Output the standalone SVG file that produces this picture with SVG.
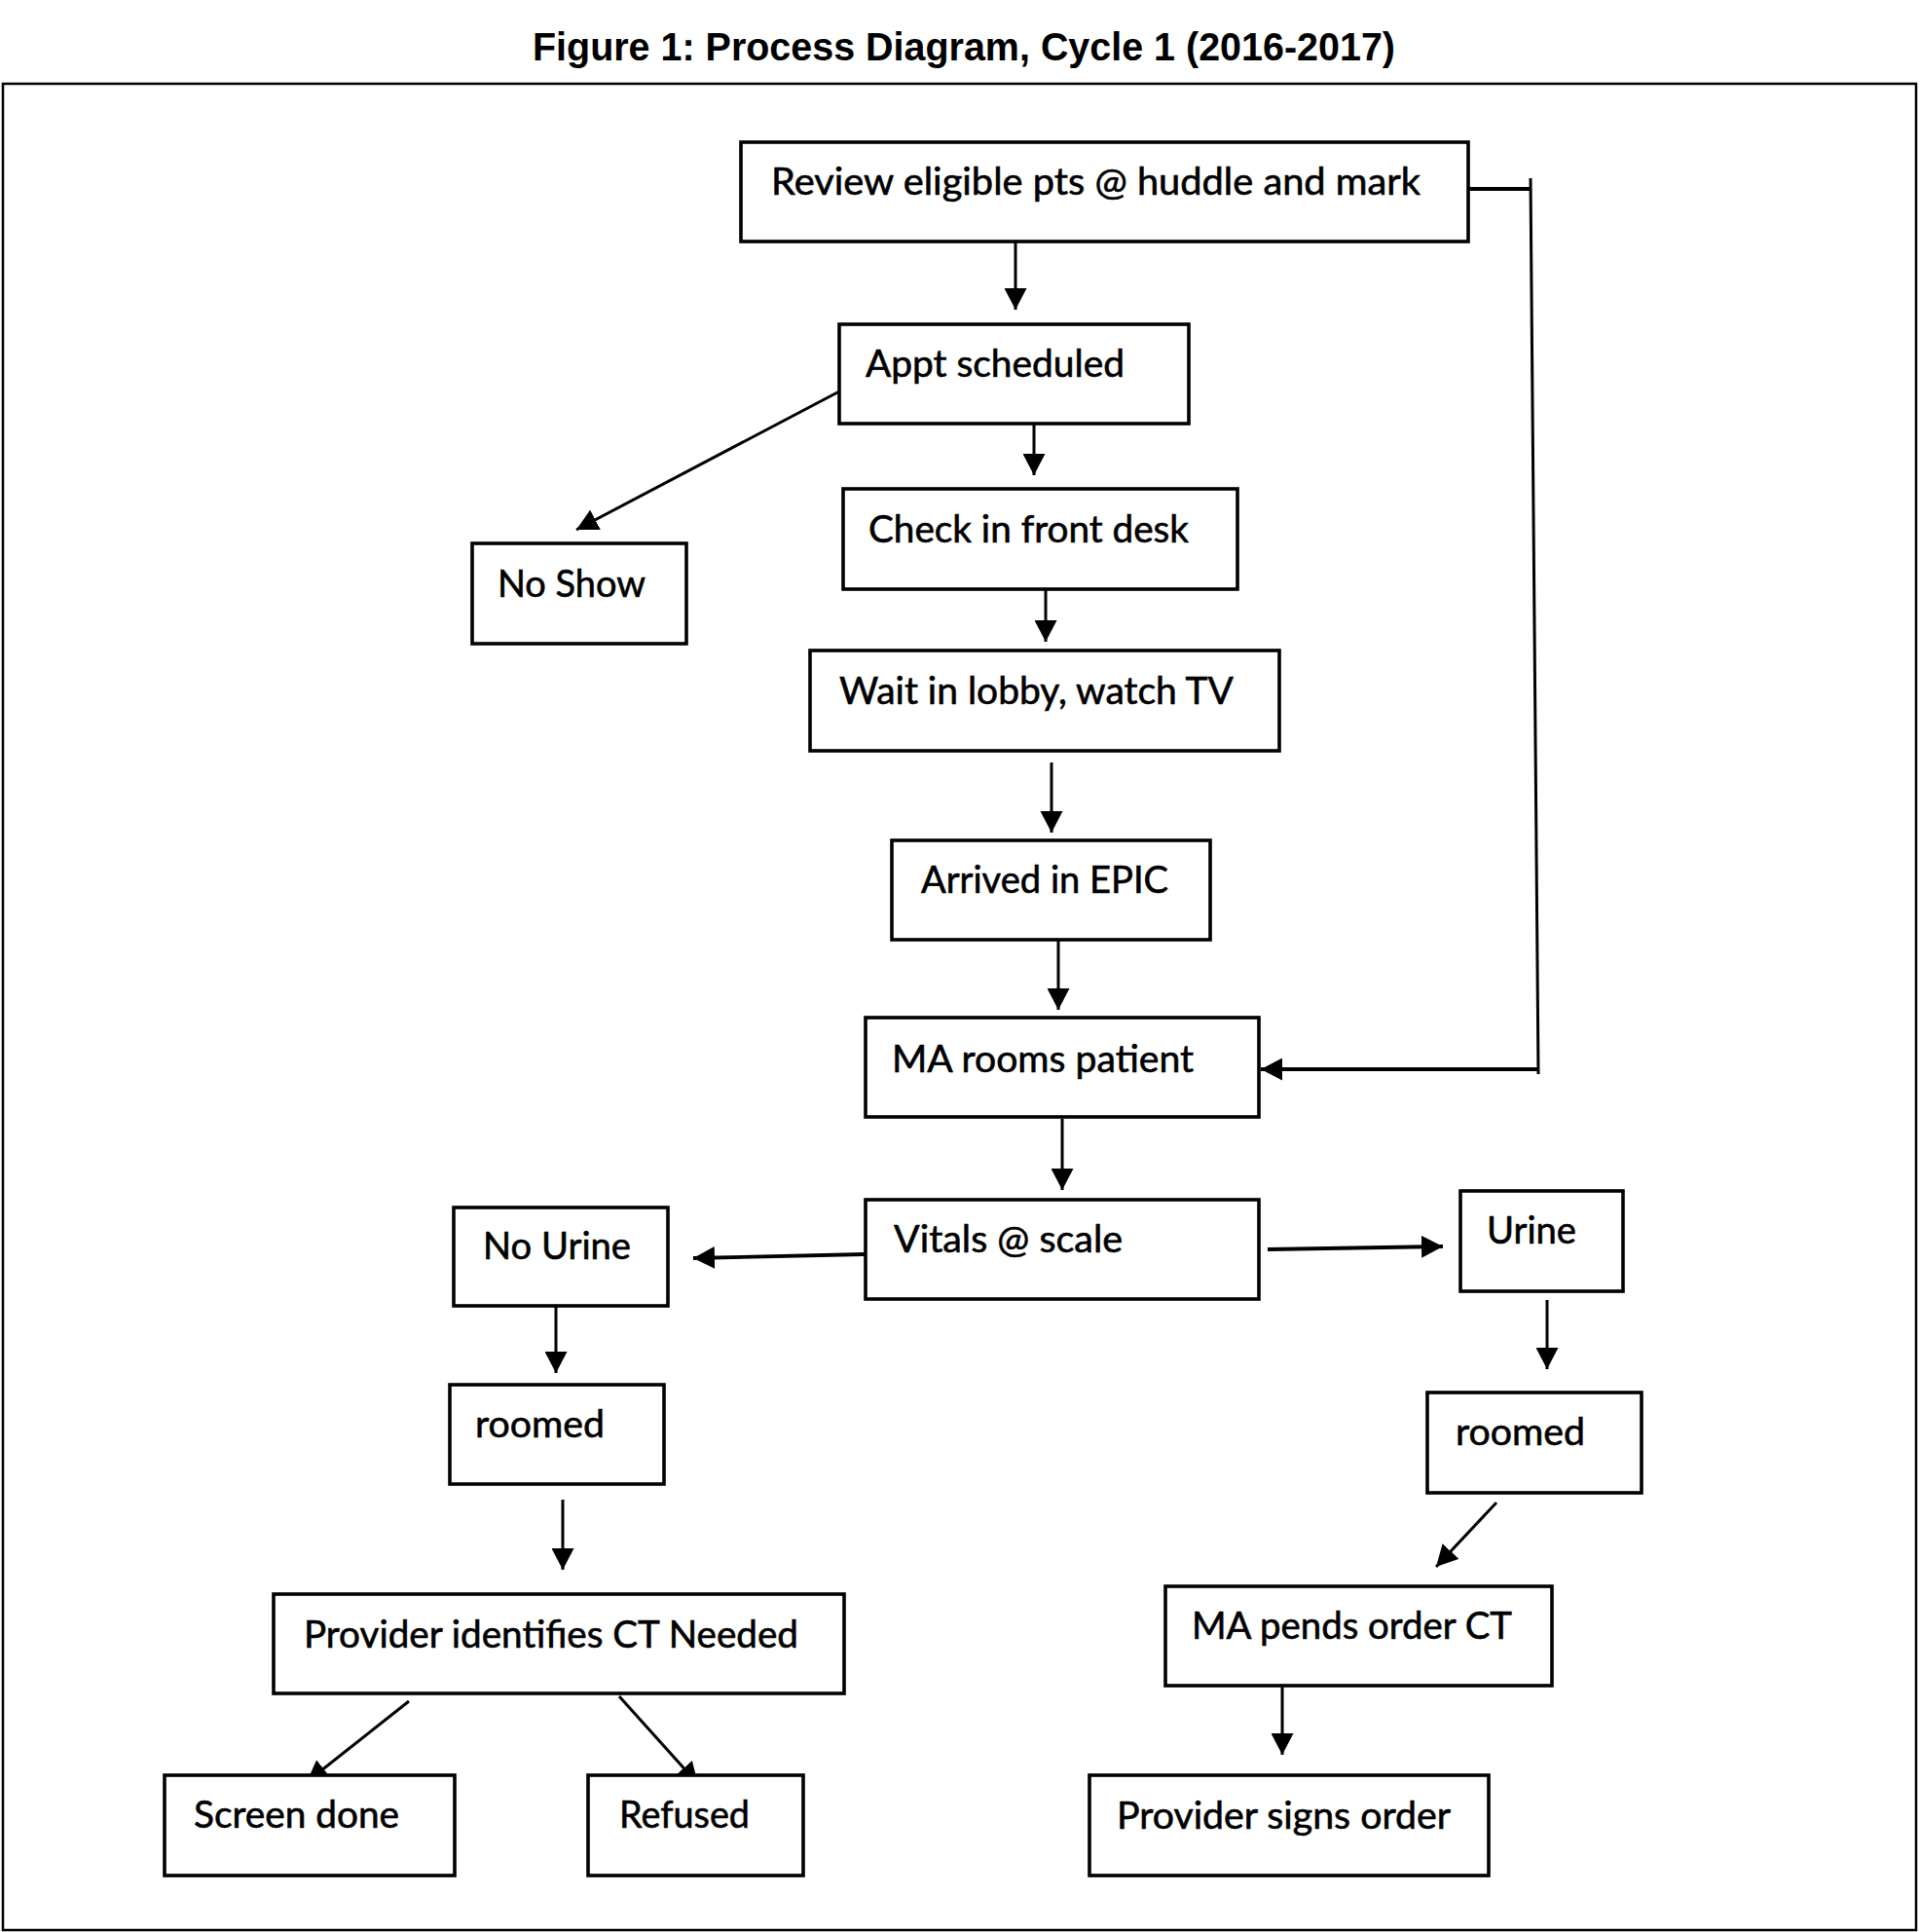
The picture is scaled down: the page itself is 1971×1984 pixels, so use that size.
<svg xmlns="http://www.w3.org/2000/svg" width="1971" height="1984" viewBox="0 0 1971 1984">
<defs>
<style>
.box{fill:#fff;stroke:#000;stroke-width:3.6}
.lbl{font-family:Lato,"Open Sans","Liberation Sans",sans-serif;font-size:39px;fill:#000;stroke:#000;stroke-width:0.6}
.title{font-family:"Liberation Sans",Arial,sans-serif;font-size:40px;font-weight:bold;fill:#000}
.ln{stroke:#000;stroke-width:3;fill:none}
.lnt{stroke:#000;stroke-width:3.8;fill:none}
</style>
<marker id="ah" markerUnits="userSpaceOnUse" markerWidth="22" markerHeight="23" refX="22" refY="11.5" orient="auto">
<path d="M0,0 L22,11.5 L0,23 z" fill="#000"/>
</marker>
</defs>
<rect x="0" y="0" width="1971" height="1984" fill="#fff"/>
<text class="title" x="547" y="62" textLength="886" lengthAdjust="spacingAndGlyphs">Figure 1: Process Diagram, Cycle 1 (2016-2017)</text>
<rect x="3" y="86" width="1965" height="1896" fill="none" stroke="#000" stroke-width="2.5"/>

<g id="connectors">
<line class="ln" x1="1043" y1="248" x2="1043" y2="318" marker-end="url(#ah)"/>
<line class="ln" x1="862" y1="402" x2="592" y2="544" marker-end="url(#ah)"/>
<line class="ln" x1="1062" y1="418" x2="1062" y2="488" marker-end="url(#ah)"/>
<line class="ln" x1="1074" y1="588" x2="1074" y2="659" marker-end="url(#ah)"/>
<line class="ln" x1="1080" y1="783" x2="1080" y2="855" marker-end="url(#ah)"/>
<line class="ln" x1="1087" y1="965" x2="1087" y2="1037" marker-end="url(#ah)"/>
<line class="ln" x1="1091" y1="1149" x2="1091" y2="1222" marker-end="url(#ah)"/>
<line class="lnt" x1="1502" y1="194" x2="1573" y2="194"/>
<line class="ln" x1="1572" y1="183" x2="1580" y2="1103"/>
<line class="lnt" x1="1581" y1="1098" x2="1295" y2="1098" marker-end="url(#ah)"/>
<line class="lnt" x1="888" y1="1288" x2="712" y2="1292" marker-end="url(#ah)"/>
<line class="lnt" x1="1302" y1="1283" x2="1482" y2="1280" marker-end="url(#ah)"/>
<line class="ln" x1="571" y1="1338" x2="571" y2="1410" marker-end="url(#ah)"/>
<line class="ln" x1="578" y1="1540" x2="578" y2="1612" marker-end="url(#ah)"/>
<line class="ln" x1="420" y1="1747" x2="315" y2="1830" marker-end="url(#ah)"/>
<line class="ln" x1="636" y1="1742" x2="717" y2="1832" marker-end="url(#ah)"/>
<line class="ln" x1="1589" y1="1335" x2="1589" y2="1406" marker-end="url(#ah)"/>
<line class="ln" x1="1537" y1="1543" x2="1475" y2="1609" marker-end="url(#ah)"/>
<line class="ln" x1="1317" y1="1731" x2="1317" y2="1802" marker-end="url(#ah)"/>
</g>

<g id="review"><rect class="box" x="761" y="146" width="747" height="102"/><text class="lbl" x="792" y="200" textLength="667" lengthAdjust="spacingAndGlyphs">Review eligible pts @ huddle and mark</text></g>
<g id="appt"><rect class="box" x="862" y="333" width="359" height="102"/><text class="lbl" x="889" y="387" textLength="266" lengthAdjust="spacingAndGlyphs">Appt scheduled</text></g>
<g id="noshow"><rect class="box" x="485" y="558" width="220" height="103"/><text class="lbl" x="511" y="613" textLength="152" lengthAdjust="spacingAndGlyphs">No Show</text></g>
<g id="checkin"><rect class="box" x="866" y="502" width="405" height="103"/><text class="lbl" x="892" y="557" textLength="329" lengthAdjust="spacingAndGlyphs">Check in front desk</text></g>
<g id="wait"><rect class="box" x="832" y="668" width="482" height="103"/><text class="lbl" x="862" y="723" textLength="405" lengthAdjust="spacingAndGlyphs">Wait in lobby, watch TV</text></g>
<g id="arrived"><rect class="box" x="916" y="863" width="327" height="102"/><text class="lbl" x="946" y="917" textLength="254" lengthAdjust="spacingAndGlyphs">Arrived in EPIC</text></g>
<g id="marooms"><rect class="box" x="889" y="1045" width="404" height="102"/><text class="lbl" x="916" y="1101" textLength="310" lengthAdjust="spacingAndGlyphs">MA rooms patient</text></g>
<g id="vitals"><rect class="box" x="889" y="1232" width="404" height="102"/><text class="lbl" x="918" y="1286" textLength="235" lengthAdjust="spacingAndGlyphs">Vitals @ scale</text></g>
<g id="nourine"><rect class="box" x="466" y="1240" width="220" height="101"/><text class="lbl" x="496" y="1293" textLength="152" lengthAdjust="spacingAndGlyphs">No Urine</text></g>
<g id="urine"><rect class="box" x="1500" y="1223" width="167" height="103"/><text class="lbl" x="1527" y="1277" textLength="92" lengthAdjust="spacingAndGlyphs">Urine</text></g>
<g id="roomed-left"><rect class="box" x="462" y="1422" width="220" height="102"/><text class="lbl" x="488" y="1476" textLength="133" lengthAdjust="spacingAndGlyphs">roomed</text></g>
<g id="provider-identifies"><rect class="box" x="281" y="1637" width="586" height="102"/><text class="lbl" x="312" y="1692" textLength="508" lengthAdjust="spacingAndGlyphs">Provider identifies CT Needed</text></g>
<g id="screen-done"><rect class="box" x="169" y="1823" width="298" height="103"/><text class="lbl" x="199" y="1877" textLength="211" lengthAdjust="spacingAndGlyphs">Screen done</text></g>
<g id="refused"><rect class="box" x="604" y="1823" width="221" height="103"/><text class="lbl" x="636" y="1877" textLength="134" lengthAdjust="spacingAndGlyphs">Refused</text></g>
<g id="roomed-right"><rect class="box" x="1466" y="1430" width="220" height="103"/><text class="lbl" x="1495" y="1484" textLength="133" lengthAdjust="spacingAndGlyphs">roomed</text></g>
<g id="ma-pends"><rect class="box" x="1197" y="1629" width="397" height="102"/><text class="lbl" x="1224" y="1683" textLength="329" lengthAdjust="spacingAndGlyphs">MA pends order CT</text></g>
<g id="provider-signs"><rect class="box" x="1119" y="1823" width="410" height="103"/><text class="lbl" x="1147" y="1878" textLength="343" lengthAdjust="spacingAndGlyphs">Provider signs order</text></g>
</svg>
